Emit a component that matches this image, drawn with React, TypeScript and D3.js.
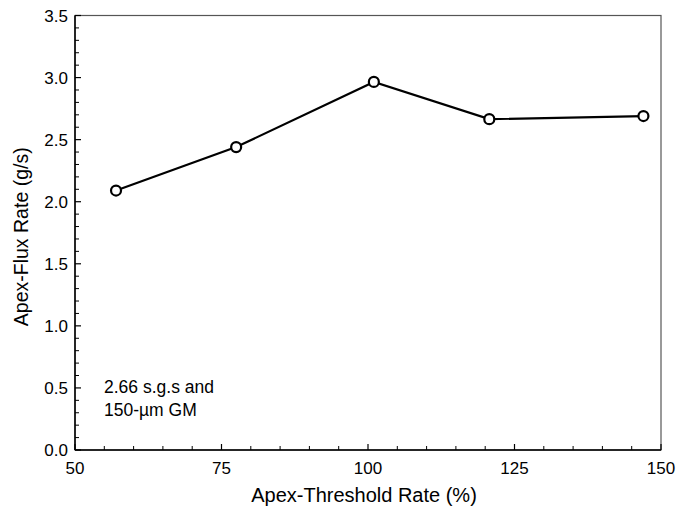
import React from 'react';
import * as d3 from 'd3';

const thresholdRate = [57, 77.5, 101, 120.7, 147];
const fluxRate = [2.09, 2.44, 2.965, 2.665, 2.69];
const xTicks = [50, 75, 100, 125, 150];
const yTicks = [0, 0.5, 1, 1.5, 2, 2.5, 3, 3.5];
const noteLines = ['2.66 s.g.s and', '150-\u00b5m GM'];

const width = 680;
const height = 507;
const margin = { top: 15.5, right: 19, bottom: 57, left: 75 };
const font = '"Liberation Sans", Arial, Helvetica, sans-serif';

export default function App() {
  const x = d3.scaleLinear().domain([50, 150]).range([margin.left, width - margin.right]);
  const y = d3.scaleLinear().domain([0, 3.5]).range([height - margin.bottom, margin.top]);

  const pts = thresholdRate.map((t, i) => ({ t, f: fluxRate[i] }));
  const line = d3.line<{ t: number; f: number }>().x(d => x(d.t)).y(d => y(d.f));

  // minor ticks: every 5 on x, every 0.1 on y
  const xMinor = d3.range(50, 150.01, 5).filter(v => v % 25 !== 0);
  const yMinor = d3.range(0, 36).map(v => v / 10).filter(v => Math.round(v * 10) % 5 !== 0);

  const x0 = x(50), x1 = x(150), y0 = y(0), y1 = y(3.5);

  return (
    <svg width={width} height={height} style={{ position: 'absolute', left: 0, top: 0 }} fontFamily={font}>
      <rect width={width} height={height} fill="#fff" />
      {/* frame */}
      <rect x={x0} y={y1} width={x1 - x0} height={y0 - y1} fill="none" stroke="#555" strokeWidth={1.2} />
      <line x1={x0} x2={x1} y1={y0} y2={y0} stroke="#000" strokeWidth={1.5} />
      <line x1={x0} x2={x0} y1={y0} y2={y1} stroke="#000" strokeWidth={1.5} />

      {/* ticks */}
      {xTicks.map(v => (
        <g key={'xt' + v}>
          <line x1={x(v)} x2={x(v)} y1={y0} y2={y0 - 6} stroke="#000" strokeWidth={1.2} />
          <text x={x(v)} y={y0 + 23.5} textAnchor="middle" fontSize={17}>{v}</text>
        </g>
      ))}
      {xMinor.map(v => (
        <line key={'xm' + v} x1={x(v)} x2={x(v)} y1={y0} y2={y0 - 4} stroke="#000" strokeWidth={1} />
      ))}
      {yTicks.map(v => (
        <g key={'yt' + v}>
          <line x1={x0} x2={x0 + 6} y1={y(v)} y2={y(v)} stroke="#000" strokeWidth={1.2} />
          <text x={x0 - 7} y={y(v) + 6} textAnchor="end" fontSize={17}>{v.toFixed(1)}</text>
        </g>
      ))}
      {yMinor.map(v => (
        <line key={'ym' + v} x1={x0} x2={x0 + 4} y1={y(v)} y2={y(v)} stroke="#000" strokeWidth={1} />
      ))}

      {/* data */}
      <path d={line(pts) || ''} fill="none" stroke="#000" strokeWidth={2.2} />
      {pts.map((p, i) => (
        <circle key={i} cx={x(p.t)} cy={y(p.f)} r={5} fill="#fff" stroke="#000" strokeWidth={2.2} />
      ))}

      {/* note */}
      {noteLines.map((s, i) => (
        <text key={i} x={104} y={393 + i * 23} fontSize={17.5}>{s}</text>
      ))}

      {/* axis titles */}
      <text x={(x0 + x1) / 2 - 4} y={502} textAnchor="middle" fontSize={20}>Apex-Threshold Rate (%)</text>
      <text transform={`translate(28,${(y0 + y1) / 2 + 4}) rotate(-90)`} textAnchor="middle" fontSize={19.5}>Apex-Flux Rate (g/s)</text>
    </svg>
  );
}
